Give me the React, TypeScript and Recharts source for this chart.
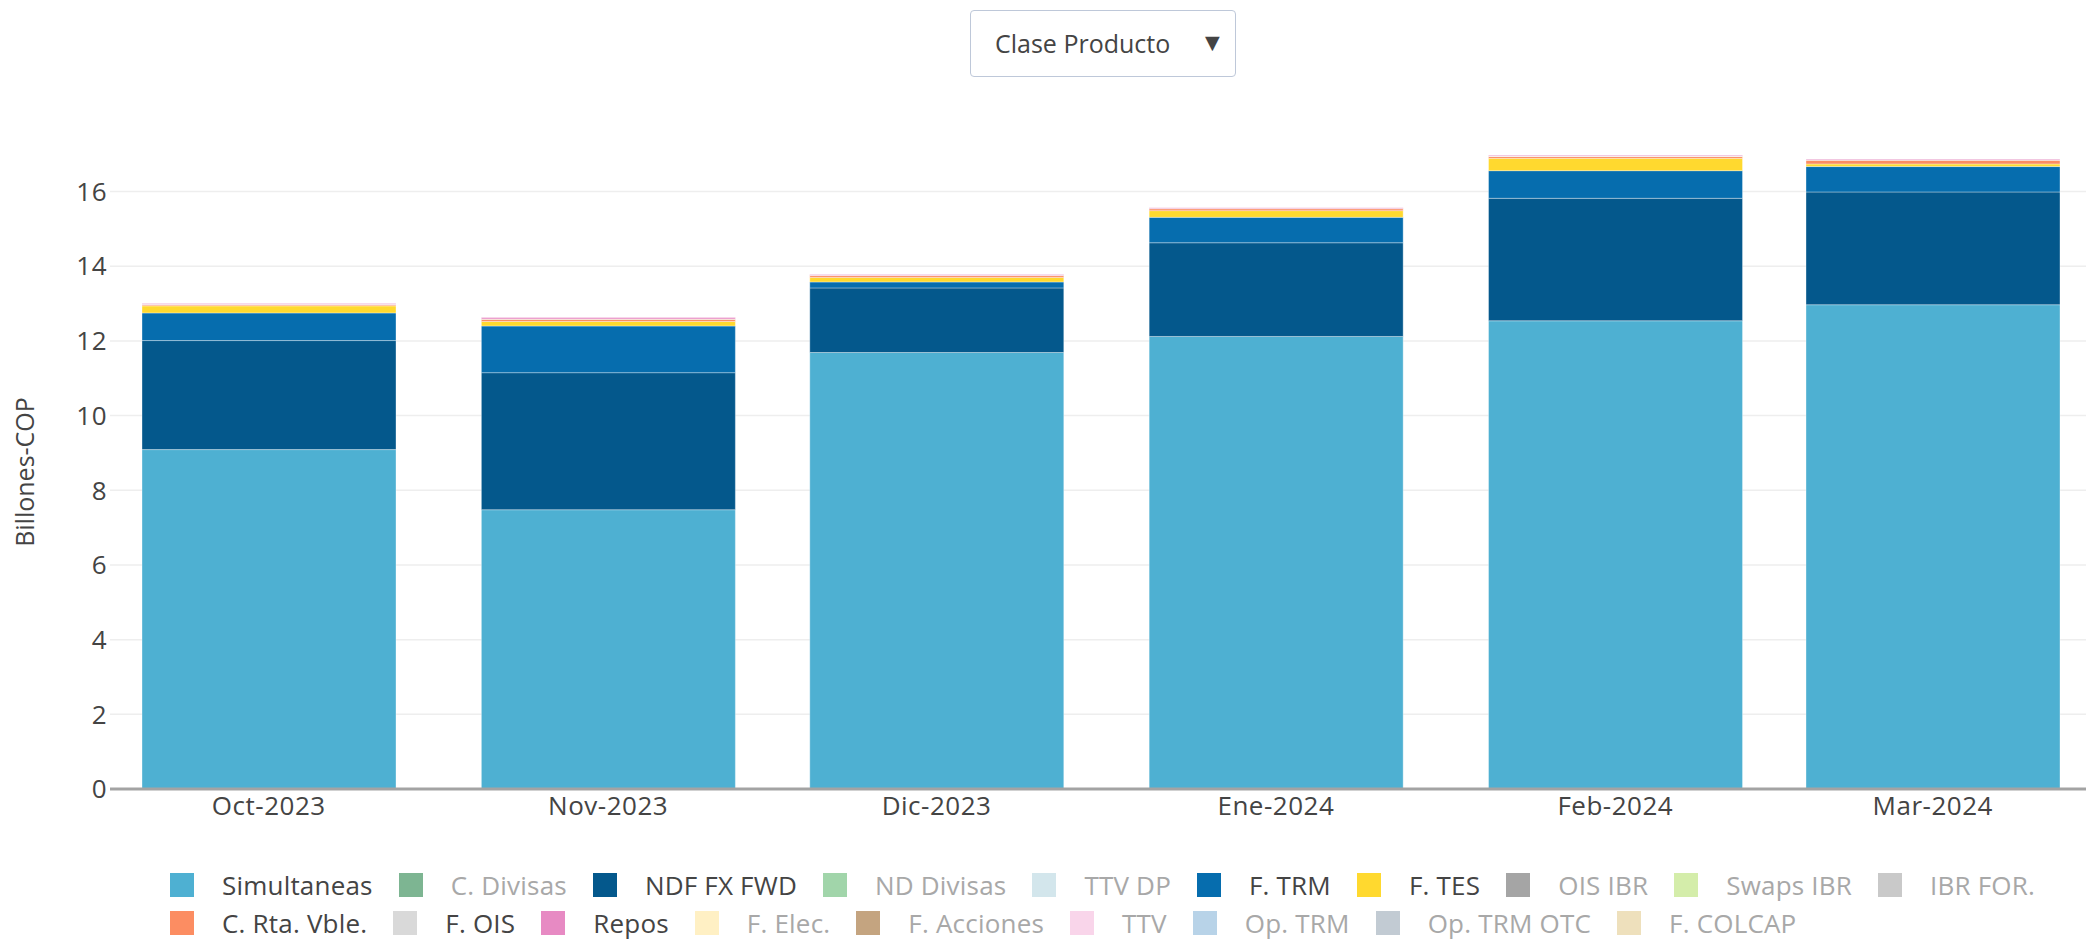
import React from "react";
import {
  BarChart,
  Bar,
  XAxis,
  YAxis,
  CartesianGrid,
} from "recharts";

// months, placed on a day axis (days since 1 Oct 2023) like the original date axis
const MONTHS = ["Oct-2023", "Nov-2023", "Dic-2023", "Ene-2024", "Feb-2024", "Mar-2024"];
const DAYS = [0, 31, 61, 92, 123, 152];

// Billones COP, stacked bottom to top
const SIMULTANEAS = [9.09, 7.48, 11.69, 12.12, 12.54, 12.97];
const NDF_FX_FWD = [2.92, 3.67, 1.73, 2.51, 3.28, 3.02];
const F_TRM = [0.74, 1.25, 0.16, 0.68, 0.74, 0.68];
const F_TES = [0.19, 0.12, 0.12, 0.18, 0.33, 0.07];
const C_RTA_VBLE = [0.03, 0.06, 0.05, 0.05, 0.05, 0.1];
const F_OIS = [0.01, 0.01, 0.01, 0.01, 0.01, 0.01];
const REPOS = [0.02, 0.04, 0.02, 0.02, 0.02, 0.02];

const Y_TICKS = [0, 2, 4, 6, 8, 10, 12, 14, 16];

const FONT = '"Open Sans", verdana, arial, sans-serif';
const TEXT = "#444";
const MUTED = "#a8a8a8";

const SERIES = [
  { key: "sim", name: "Simultaneas", color: "#4eb0d2", values: SIMULTANEAS },
  { key: "ndf", name: "NDF FX FWD", color: "#04588c", values: NDF_FX_FWD },
  { key: "trm", name: "F. TRM", color: "#066dae", values: F_TRM },
  { key: "tes", name: "F. TES", color: "#ffd92f", values: F_TES },
  { key: "rta", name: "C. Rta. Vble.", color: "#fc8d62", values: C_RTA_VBLE },
  { key: "ois", name: "F. OIS", color: "#d9d9d9", values: F_OIS },
  { key: "repos", name: "Repos", color: "#e78ac3", values: REPOS },
];

// legend as drawn: [label, swatch colour, active]
const LEGEND_ROW_1: [string, string, boolean][] = [
  ["Simultaneas", "#4eb0d2", true],
  ["C. Divisas", "#7db592", false],
  ["NDF FX FWD", "#04588c", true],
  ["ND Divisas", "#a1d5aa", false],
  ["TTV DP", "#d3e6ec", false],
  ["F. TRM", "#066dae", true],
  ["F. TES", "#ffd92f", true],
  ["OIS IBR", "#a5a5a5", false],
  ["Swaps IBR", "#d4edaa", false],
  ["IBR FOR.", "#c9c9c9", false],
];
const LEGEND_ROW_2: [string, string, boolean][] = [
  ["C. Rta. Vble.", "#fc8d62", true],
  ["F. OIS", "#d9d9d9", true],
  ["Repos", "#e78ac3", true],
  ["F. Elec.", "#fff0c4", false],
  ["F. Acciones", "#c4a480", false],
  ["TTV", "#f9d5ea", false],
  ["Op. TRM", "#b8d3e8", false],
  ["Op. TRM OTC", "#c2cbd3", false],
  ["F. COLCAP", "#eee0bc", false],
];

const data = DAYS.map((day, i) => {
  const row: Record<string, number> = { day };
  SERIES.forEach((s) => (row[s.key] = s.values[i]));
  return row;
});

const tickStyle = { fill: TEXT, fontSize: 26, fontFamily: FONT, letterSpacing: 0.5 };

function LegendRow({ items, top }: { items: [string, string, boolean][]; top: number }) {
  return (
    <div
      style={{
        position: "absolute",
        left: 170,
        top,
        display: "flex",
        alignItems: "center",
        fontFamily: FONT,
        fontSize: 26,
        letterSpacing: 0.2,
        whiteSpace: "nowrap",
        lineHeight: "34px",
      }}
    >
      {items.map(([label, color, active]) => (
        <div key={label} style={{ display: "flex", alignItems: "center", marginRight: 26 }}>
          <span style={{ width: 24, height: 24, background: color, display: "inline-block" }} />
          <span style={{ marginLeft: 28, color: active ? TEXT : MUTED }}>{label}</span>
        </div>
      ))}
    </div>
  );
}

export default function App() {
  return (
    <div
      style={{
        position: "absolute",
        left: 0,
        top: 0,
        width: 2086,
        height: 945,
        background: "#fff",
        overflow: "hidden",
        fontFamily: FONT,
      }}
    >
      {/* dropdown */}
      <div
        style={{
          position: "absolute",
          left: 970,
          top: 10,
          width: 264,
          height: 65,
          border: "1px solid #bec8d9",
          borderRadius: 4,
          background: "#fff",
        }}
      >
        <span style={{ position: "absolute", left: 24, top: 15, fontSize: 25, color: TEXT, lineHeight: "34px" }}>
          Clase Producto
        </span>
        <span style={{ position: "absolute", left: 229, top: 14, fontSize: 25, color: TEXT, lineHeight: "32px" }}>
          ▼
        </span>
      </div>

      {/* y axis title */}
      <div
        style={{
          position: "absolute",
          left: 24,
          top: 472,
          transform: "translate(-50%, -50%) rotate(-90deg)",
          fontSize: 25,
          color: TEXT,
          whiteSpace: "nowrap",
        }}
      >
        Billones-COP
      </div>

      <div style={{ position: "absolute", left: 0, top: 0 }}>
        <BarChart
          width={2086}
          height={945}
          data={data}
          margin={{ top: 124, right: 0, bottom: 116, left: 0 }}
        >
          <CartesianGrid
            stroke="#eeeeee"
            strokeWidth={1.5}
            vertical={false}
            horizontalValues={Y_TICKS}
          />
          <XAxis
            type="number"
            dataKey="day"
            domain={[-14.5, 166]}
            ticks={DAYS}
            interval={0}
            tickFormatter={(d: number) => MONTHS[DAYS.indexOf(d)] ?? ""}
            tick={tickStyle}
            axisLine={{ stroke: "#a3a3a3", strokeWidth: 3 }}
            tickLine={false}
            tickSize={0}
            tickMargin={8}
            height={40}
          />
          <YAxis
            type="number"
            domain={[0, 17.81]}
            ticks={Y_TICKS}
            interval={0}
            tick={tickStyle}
            axisLine={false}
            tickLine={false}
            tickSize={0}
            tickMargin={3}
            width={110}
          />
          {SERIES.map((s) => (
            <Bar
              key={s.key}
              dataKey={s.key}
              name={s.name}
              stackId="a"
              fill={s.color}
              stroke="rgba(255,255,255,0.35)"
              strokeWidth={1}
              barSize={254}
              isAnimationActive={false}
            />
          ))}
        </BarChart>
      </div>

      <LegendRow items={LEGEND_ROW_1} top={868} />
      <LegendRow items={LEGEND_ROW_2} top={906} />
    </div>
  );
}
